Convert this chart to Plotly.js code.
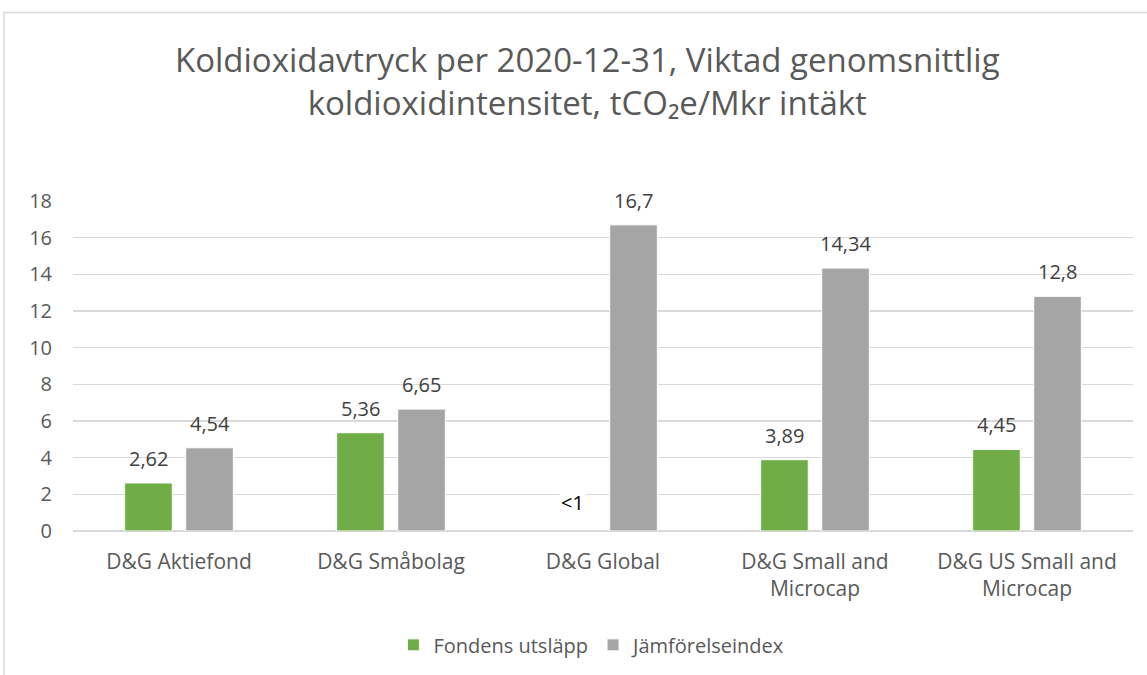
<!DOCTYPE html>
<html>
<head>
<meta charset="utf-8">
<script src="https://cdn.plot.ly/plotly-3.0.1.min.js"></script>
<style>html,body{margin:0;padding:0;background:#fff;}#chart{width:1147px;height:675px;}</style>
</head>
<body>
<div id="chart"></div>
<script>
const categories = ["D&G Aktiefond", "D&G Småbolag", "D&G Global", "D&G Small and<br>Microcap", "D&G US Small and<br>Microcap"];
const fundValues = [2.62, 5.36, 0, 3.89, 4.45];
const fundLabels = ["2,62", "5,36", "<1", "3,89", "4,45"];
const indexValues = [4.54, 6.65, 16.7, 14.34, 12.8];
const indexLabels = ["4,54", "6,65", "16,7", "14,34", "12,8"];
const yTicks = [0, 2, 4, 6, 8, 10, 12, 14, 16, 18];

const font = "Open Sans, Liberation Sans, sans-serif";
const txt = "#595959";
const lbl = "#404040";

const traces = [
  {
    type: "bar", name: "Fondens utsläpp", x: categories, y: fundValues,
    marker: {color: "#70AD47", line: {color: "#ffffff", width: fundValues.map(v => v > 0 ? 1 : 0)}},
    hoverinfo: "skip"
  },
  {
    type: "bar", name: "Jämförelseindex", x: categories, y: indexValues,
    marker: {color: "#A5A5A5", line: {color: "#ffffff", width: 1}},
    hoverinfo: "skip"
  }
];

// data labels placed above each bar of the group
const annotations = [];
const series = [
  {vals: fundValues, labels: fundLabels, shift: -30.5},
  {vals: indexValues, labels: indexLabels, shift: 30.5}
];
series.forEach(s => {
  s.vals.forEach((v, i) => {
    const special = s.labels[i] === "<1";
    annotations.push({
      x: categories[i], y: v, xref: "x", yref: "y",
      text: s.labels[i], showarrow: false,
      xanchor: "center", yanchor: "bottom",
      xshift: s.shift, yshift: special ? 13 : 9,
      bgcolor: special ? "#ffffff" : "rgba(0,0,0,0)",
      font: {family: font, size: 20, color: special ? "#000000" : lbl}
    });
  });
});

const layout = {
  width: 1147, height: 675,
  margin: {l: 73, r: 14, t: 201, b: 143},
  paper_bgcolor: "#ffffff", plot_bgcolor: "#ffffff",
  font: {family: font, color: txt},
  title: {
    text: "Koldioxidavtryck per 2020-12-31, Viktad genomsnittlig<br>koldioxidintensitet, tCO₂e/Mkr intäkt",
    font: {family: font, size: 33, color: txt},
    x: 0.512, xanchor: "center", y: 0.893, yanchor: "middle"
  },
  barmode: "group", bargap: 0.424, bargroupgap: 0.22,
  xaxis: {
    type: "category", showgrid: false, zeroline: false, showline: false,
    ticks: "", ticklabelstandoff: 16,
    tickfont: {family: font, size: 21, color: txt}
  },
  yaxis: {
    range: [0, 18], tickvals: yTicks, ticktext: yTicks.map(String),
    showgrid: true, gridcolor: "#D9D9D9", gridwidth: 1.3,
    zeroline: true, zerolinecolor: "#D9D9D9", zerolinewidth: 1.3,
    showline: false, ticks: "", ticklabelstandoff: 20,
    tickfont: {family: font, size: 20, color: txt}
  },
  showlegend: true,
  legend: {
    orientation: "h", x: 0.49, xanchor: "center", y: -0.341, yanchor: "middle",
    font: {family: font, size: 20, color: txt}, itemwidth: 30, traceorder: "normal"
  },
  annotations: annotations,
  shapes: [{
    type: "rect", xref: "paper", yref: "paper",
    x0: -0.0651, x1: 1.02, y0: -0.46, y1: 1.571,
    line: {color: "#D9D9D9", width: 1.5}, fillcolor: "rgba(0,0,0,0)", layer: "below"
  }]
};

Plotly.newPlot("chart", traces, layout, {displayModeBar: false, staticPlot: true});
</script>
</body>
</html>
